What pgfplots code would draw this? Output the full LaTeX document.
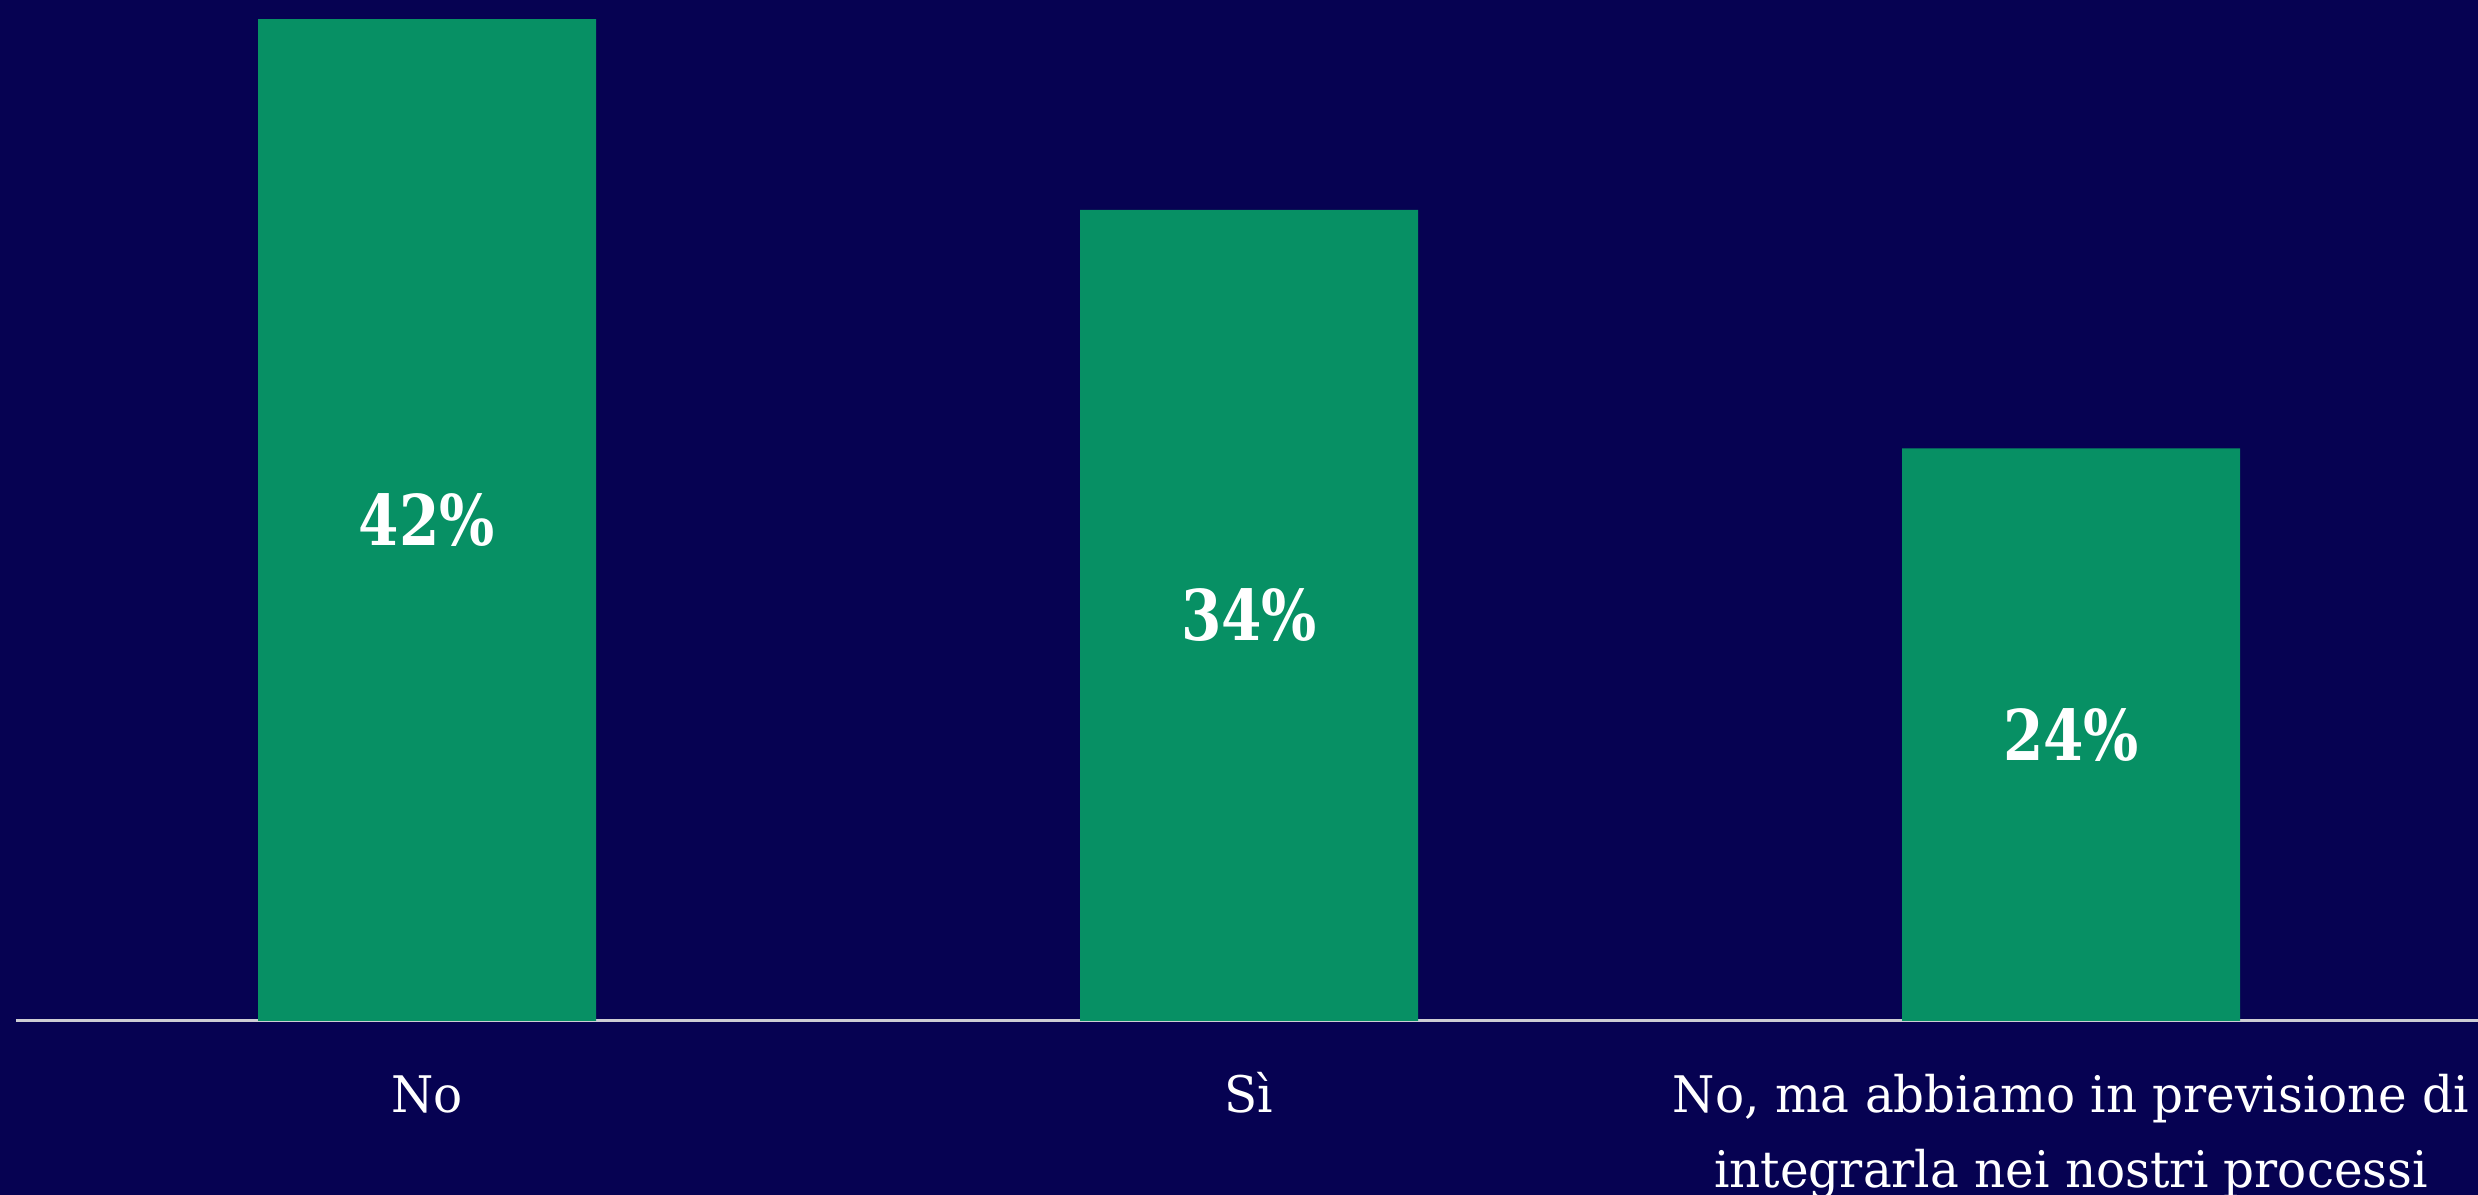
\documentclass[border=0pt]{standalone}
\usepackage{fontspec}
\usepackage{pgfplots}
\pgfplotsset{compat=1.18}
\newfontfamily\slab[FakeStretch=0.96]{DejaVu Serif}
\newfontfamily\pctfont[FakeStretch=0.83]{DejaVu Serif}
\definecolor{navy}{RGB}{6,2,82}
\definecolor{barg}{RGB}{7,144,100}
\definecolor{basel}{RGB}{205,205,212}
\begin{document}
\begin{tikzpicture}
\path[use as bounding box, fill=navy] (0,0) rectangle (619.5pt,298.75pt);
\begin{axis}[
  at={(4pt,43.5pt)}, anchor=south west,
  scale only axis, width=615.5pt, height=255.25pt,
  xmin=-0.5, xmax=2.495, ymin=0, ymax=42.8,
  ybar, bar width=84.5pt,
  axis y line=none, axis x line*=bottom,
  x axis line style={draw=basel, line width=0.75pt},
  ytick=\empty,
  xtick={0,1,2},
  xticklabels={{\strut No},{\strut Sì},{\strut No, ma abbiamo in previsione di\\\strut integrarla nei nostri processi}},
  major tick length=0pt,
  xticklabel style={font=\slab\fontsize{12.6}{18.75}\selectfont, text=white, align=center, anchor=north, inner sep=0pt, yshift=-9.6pt},
  clip=false,
]
\addplot[fill=barg, draw=none,
  nodes near coords={\pgfmathprintnumber[assume math mode=true]{\pgfplotspointmeta}\%},
  nodes near coords style={font=\pctfont\bfseries\fontsize{17.5}{20}\selectfont, text=white, anchor=center},
  visualization depends on=y \as \rawy,
  every node near coord/.append style={shift={(axis direction cs:0,-\rawy/2)}},
] coordinates {(0,42) (1,34) (2,24)};
\end{axis}
\end{tikzpicture}
\end{document}
